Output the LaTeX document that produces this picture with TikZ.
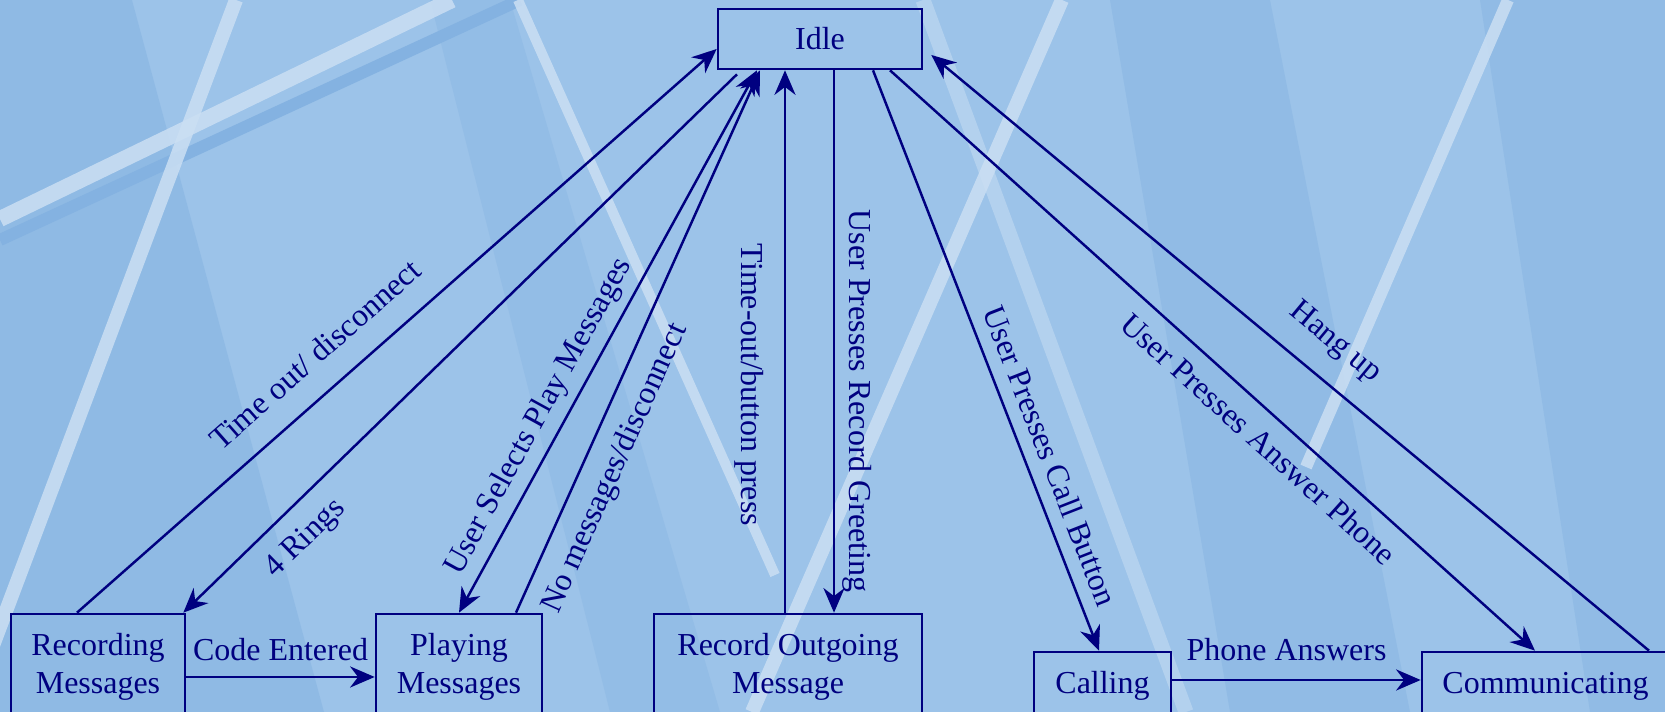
\documentclass[tikz,border=0pt]{standalone}
\usepackage{fontspec}
\setmainfont{Liberation Serif}
\usepackage{xcolor,tikz}
\usetikzlibrary{positioning,arrows.meta}
\definecolor{navy}{RGB}{0,0,128}
\definecolor{sky}{RGB}{156,195,233}
\definecolor{skydk}{RGB}{132,178,225}
\definecolor{skylt}{RGB}{203,223,243}

\begin{document}
\begin{tikzpicture}[font=\fontsize{18.2}{21.8}\selectfont,>={Stealth[length=14pt,width=12pt]},
 b/.style={draw=navy,line width=1.5pt,text=navy,align=center,inner sep=0pt},
 a/.style={->,line width=1.4pt,navy},
 lab/.style={text=navy,inner sep=0pt,text height=0.68em,text depth=0.22em},
 sl/.style={lab,sloped},
 streak/.style={line width=#1,skylt,opacity=.85}]
\useasboundingbox (0,0) rectangle (33.3,14.24);
\clip (0,0) rectangle (33.3,14.24);
\fill[sky] (0,0) rectangle (33.3,14.24);
\fill[skydk,opacity=.5] (0,14.24) -- (2.64,14.24) -- (6.48,0) -- (0,0) -- cycle;
\fill[skydk,opacity=.35] (8.6,14.24) -- (10.2,14.24) -- (14.4,0) -- (12.2,0) -- cycle;
\fill[skydk,opacity=.45] (22.2,14.24) -- (25.4,14.24) -- (28.2,0) -- (24.6,0) -- cycle;
\fill[skydk,opacity=.45] (29.6,14.24) -- (33.3,14.24) -- (33.3,0) -- (31.8,0) -- cycle;
\draw[streak=0.32cm] (0,9.86) -- (9.04,14.24);
\draw[skydk,line width=0.24cm] (0,9.44) -- (10.4,14.24);
\draw[streak=0.28cm] (4.72,14.24) -- (-0.64,0);
\draw[streak=0.2cm] (10.36,14.24) -- (15.5,2.74);
\draw[streak=0.28cm] (21.24,14.24) -- (15.04,0);
\draw[streak=0.3cm,opacity=.5] (18.46,14.24) -- (23.72,0);
\draw[streak=0.24cm] (30.16,14.24) -- (26.12,4.9);

\node[b,minimum width=4.08cm,minimum height=1.2cm] (idle) at (16.40,13.46) {Idle};
\node[b,minimum width=3.48cm,minimum height=2.12cm] (rec) at (1.96,0.90) {Recording\\Messages};
\node[b,minimum width=3.32cm,minimum height=2.12cm] (play) at (9.18,0.90) {Playing\\Messages};
\node[b,minimum width=5.36cm,minimum height=2.12cm] (rog) at (15.76,0.90) {Record Outgoing\\Message};
\node[b,minimum width=2.74cm,minimum height=1.36cm] (call) at (22.05,0.52) {Calling};
\node[b,minimum width=4.94cm,minimum height=1.36cm] (comm) at (30.91,0.52) {Communicating};

\draw[a] ([xshift=-0.42cm]rec.north) -- node[sl,pos=0.41,above=0.41cm]{Time out/ disconnect} ([yshift=-0.2cm]idle.west);
\draw[a] ([xshift=-1.66cm,yshift=-0.08cm]idle.south) -- node[sl,pos=0.82,below=0.53cm]{4 Rings} ([xshift=-0.06cm]rec.north east);
\draw[a,<->] ([xshift=-1.26cm]idle.south) -- node[sl,pos=0.66,above=0.23cm]{User Selects Play Messages} (play.north);
\draw[a] ([xshift=1.14cm]play.north) -- node[sl,pos=0.29,below=0.52cm]{No messages/disconnect} ([xshift=-1.2cm]idle.south);
\draw[a,<-] ([xshift=-0.7cm]idle.south) -- node[sl,pos=0.58,below=0.61cm]{Time-out/button press} ([xshift=-0.7cm]idle.south |- rog.north);
\draw[a] ([xshift=0.28cm]idle.south) -- node[sl,pos=0.61,above=0.2cm]{User Presses Record Greeting} ([xshift=0.28cm]idle.south |- rog.north);
\draw[a] ([xshift=1.06cm]idle.south) -- node[sl,pos=0.68,above=0.19cm]{User Presses Call Button} ([xshift=-0.07cm]call.north);
\draw[a] ([xshift=1.4cm]idle.south) -- node[sl,pos=0.6,below=0.5cm]{User Presses Answer Phone} ([xshift=-0.21cm]comm.north);
\draw[a] ([xshift=2.07cm]comm.north) -- node[sl,pos=0.47,above=0.48cm]{Hang up} ([xshift=0.16cm,yshift=-0.32cm]idle.east);
\draw[a] ([yshift=-0.2cm]rec.east) -- node[lab,pos=0.5,above=0.22cm]{Code Entered} ([yshift=-0.2cm]play.west);
\draw[a] ([yshift=0.12cm]call.east) -- node[lab,pos=0.46,above=0.28cm]{Phone Answers} ([yshift=0.12cm]comm.west);
\end{tikzpicture}
\end{document}
